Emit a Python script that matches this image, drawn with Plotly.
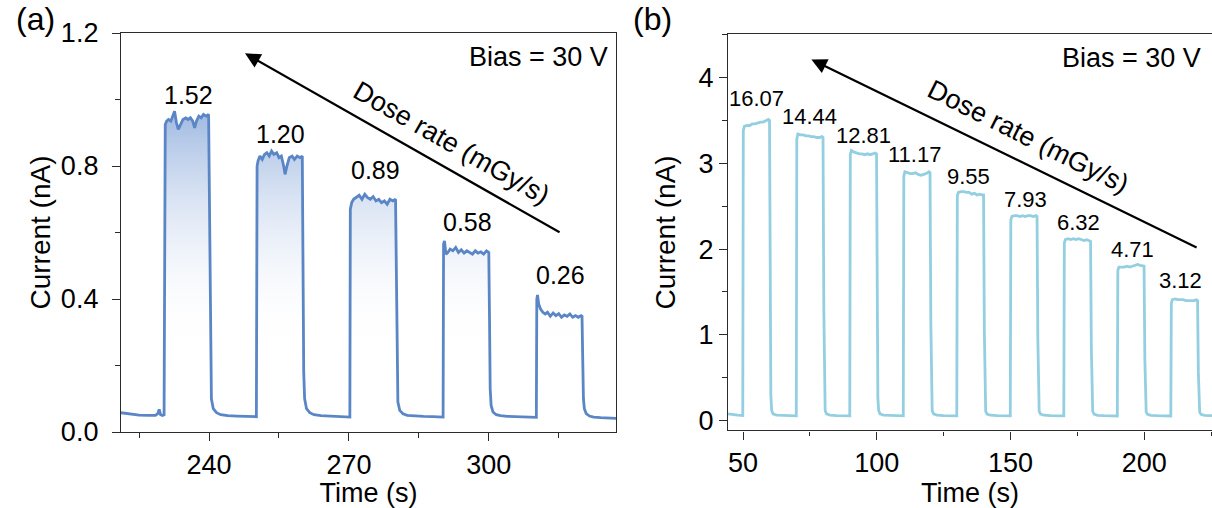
import plotly.graph_objects as go

# ---------------- Panel (a): current vs time, 5 dose rates ----------------
t_a = [221.1, 223.0, 225.0, 227.0, 228.5, 229.0, 229.3, 229.6, 230.0, 230.35,
       230.45, 230.6, 230.9, 231.3, 231.8, 232.3, 232.6, 233.0, 233.4, 233.9, 234.4, 235.0,
       235.5, 236.0, 236.5, 236.9, 237.3, 237.8, 238.3, 238.8, 239.4, 239.9,
       240.15, 240.3, 240.5, 240.9, 241.6, 242.5, 244.0, 246.0, 248.0, 250.0, 250.15,
       250.3, 250.5, 250.9, 251.4, 251.9, 252.4, 252.9, 253.4, 253.9, 254.5, 255.0, 255.5,
       256.0, 256.3, 256.7, 257.2, 257.8, 258.3, 258.9, 259.5, 260.0,
       260.15, 260.3, 260.5, 260.9, 261.6, 262.5, 264.0, 266.0, 268.0, 270.0, 270.2,
       270.3, 270.6, 271.0, 271.6, 272.2, 272.8, 273.4, 274.0, 274.6, 275.2, 275.8, 276.4,
       277.0, 277.6, 278.2, 278.8, 279.4, 280.0,
       280.15, 280.3, 280.5, 280.9, 281.6, 282.5, 284.0, 286.0, 288.0, 290.0, 290.2,
       290.3, 290.5, 290.8, 291.2, 291.7, 292.3, 292.9, 293.5, 294.1, 294.7, 295.3, 295.9,
       296.5, 297.1, 297.7, 298.3, 298.9, 299.5, 300.0,
       300.15, 300.3, 300.5, 300.9, 301.6, 302.5, 304.0, 306.0, 308.0, 310.0, 310.2,
       310.3, 310.45, 310.7, 311.1, 311.6, 312.1, 312.6, 313.2, 313.8, 314.4, 315.0, 315.6,
       316.2, 316.8, 317.4, 318.0, 318.6, 319.2, 319.8, 320.0,
       320.15, 320.3, 320.5, 320.9, 321.6, 322.5, 324.0, 326.0, 327.3]
i_a = [0.058, 0.054, 0.051, 0.050, 0.050, 0.055, 0.068, 0.052, 0.050, 0.052,
       0.900, 0.925, 0.935, 0.940, 0.935, 0.955, 0.965, 0.930, 0.910, 0.925, 0.940, 0.945,
       0.940, 0.945, 0.935, 0.915, 0.935, 0.950, 0.945, 0.955, 0.950, 0.955,
       0.550, 0.200, 0.100, 0.070, 0.058, 0.052, 0.049, 0.048, 0.046, 0.045, 0.046,
       0.800, 0.815, 0.830, 0.820, 0.835, 0.840, 0.830, 0.845, 0.835, 0.840, 0.825, 0.830,
       0.800, 0.775, 0.800, 0.825, 0.830, 0.820, 0.830, 0.825, 0.830,
       0.500, 0.180, 0.100, 0.070, 0.058, 0.052, 0.049, 0.047, 0.046, 0.045, 0.045,
       0.670, 0.690, 0.700, 0.705, 0.712, 0.700, 0.715, 0.705, 0.700, 0.708, 0.695, 0.700,
       0.690, 0.695, 0.685, 0.700, 0.695, 0.700,
       0.450, 0.160, 0.090, 0.065, 0.055, 0.050, 0.048, 0.047, 0.046, 0.045, 0.045,
       0.565, 0.575, 0.535, 0.540, 0.550, 0.545, 0.555, 0.540, 0.548, 0.538, 0.545, 0.540,
       0.535, 0.545, 0.538, 0.542, 0.535, 0.545, 0.540,
       0.350, 0.130, 0.080, 0.060, 0.052, 0.049, 0.047, 0.046, 0.045, 0.044, 0.044,
       0.400, 0.412, 0.385, 0.370, 0.360, 0.355, 0.360, 0.348, 0.358, 0.350, 0.356, 0.345,
       0.352, 0.348, 0.355, 0.345, 0.350, 0.345, 0.350, 0.348,
       0.220, 0.100, 0.070, 0.055, 0.048, 0.045, 0.043, 0.042, 0.041]
dose_a = ["1.52", "1.20", "0.89", "0.58", "0.26"]
label_a_x = [235.6, 255.3, 275.6, 295.5, 315.3]
label_a_y = [1.013, 0.897, 0.789, 0.633, 0.471]

# ---------------- Panel (b): current vs time, 9 dose rates ----------------
t_b = [44.4, 46.0, 48.0, 49.9,
       50.1, 50.5, 51.5, 52.5, 53.5, 54.5, 55.5, 56.5, 57.5, 58.5, 59.5, 59.9,
       60.2, 60.4, 60.7, 61.2, 62.5, 65.0, 67.5, 69.9,
       70.1, 70.5, 71.5, 72.5, 73.5, 74.5, 75.5, 76.5, 77.5, 78.5, 79.5, 79.9,
       80.2, 80.4, 80.7, 81.2, 82.5, 85.0, 87.5, 89.9,
       90.1, 90.5, 91.5, 92.5, 93.5, 94.5, 95.5, 96.5, 97.5, 98.5, 99.5, 99.9,
       100.2, 100.4, 100.7, 101.2, 102.5, 105.0, 107.5, 109.9,
       110.1, 110.5, 111.5, 112.5, 113.5, 114.5, 115.5, 116.5, 117.5, 118.5, 119.5, 119.9,
       120.2, 120.4, 120.7, 121.2, 122.5, 125.0, 127.5, 129.9,
       130.1, 130.5, 131.5, 132.5, 133.5, 134.5, 135.5, 136.5, 137.5, 138.5, 139.5, 139.9,
       140.2, 140.4, 140.7, 141.2, 142.5, 145.0, 147.5, 149.9,
       150.1, 150.5, 151.5, 152.5, 153.5, 154.5, 155.5, 156.5, 157.5, 158.5, 159.5, 159.9,
       160.2, 160.4, 160.7, 161.2, 162.5, 165.0, 167.5, 169.9,
       170.1, 170.5, 171.5, 172.5, 173.5, 174.5, 175.5, 176.5, 177.5, 178.5, 179.5, 179.9,
       180.2, 180.4, 180.7, 181.2, 182.5, 185.0, 187.5, 189.9,
       190.1, 190.5, 191.5, 192.5, 193.5, 194.5, 195.5, 196.5, 197.5, 198.5, 199.5, 199.9,
       200.2, 200.4, 200.7, 201.2, 202.5, 205.0, 207.5, 209.9,
       210.1, 210.5, 211.5, 212.5, 213.5, 214.5, 215.5, 216.5, 217.5, 218.5, 219.5, 219.9,
       220.2, 220.4, 220.7, 221.2, 222.5, 225.3]
i_b = [0.080, 0.070, 0.065, 0.060,
       3.38, 3.43, 3.44, 3.44, 3.46, 3.46, 3.47, 3.48, 3.48, 3.50, 3.51, 3.50,
       1.40, 0.30, 0.12, 0.080, 0.065, 0.060, 0.058, 0.056,
       3.28, 3.34, 3.33, 3.33, 3.32, 3.32, 3.31, 3.31, 3.30, 3.30, 3.31, 3.30,
       1.30, 0.28, 0.12, 0.080, 0.065, 0.060, 0.058, 0.056,
       3.10, 3.15, 3.13, 3.12, 3.11, 3.11, 3.10, 3.11, 3.10, 3.11, 3.12, 3.11,
       1.25, 0.27, 0.12, 0.080, 0.065, 0.060, 0.058, 0.056,
       2.85, 2.90, 2.89, 2.88, 2.88, 2.89, 2.87, 2.86, 2.87, 2.88, 2.90, 2.89,
       1.15, 0.26, 0.12, 0.080, 0.065, 0.060, 0.058, 0.056,
       2.62, 2.66, 2.67, 2.67, 2.66, 2.66, 2.64, 2.65, 2.63, 2.64, 2.63, 2.63,
       1.05, 0.25, 0.11, 0.078, 0.064, 0.060, 0.058, 0.056,
       2.34, 2.38, 2.39, 2.39, 2.38, 2.39, 2.38, 2.39, 2.39, 2.38, 2.39, 2.38,
       0.95, 0.23, 0.11, 0.078, 0.064, 0.060, 0.058, 0.056,
       2.07, 2.11, 2.12, 2.11, 2.12, 2.11, 2.12, 2.11, 2.10, 2.11, 2.10, 2.09,
       0.85, 0.21, 0.11, 0.076, 0.063, 0.059, 0.057, 0.055,
       1.75, 1.79, 1.79, 1.79, 1.80, 1.79, 1.80, 1.81, 1.82, 1.81, 1.80, 1.80,
       0.72, 0.19, 0.10, 0.075, 0.062, 0.058, 0.056, 0.055,
       1.37, 1.41, 1.42, 1.41, 1.41, 1.41, 1.40, 1.40, 1.40, 1.40, 1.41, 1.40,
       0.56, 0.17, 0.10, 0.074, 0.062, 0.058]
dose_b = ["16.07", "14.44", "12.81", "11.17", "9.55", "7.93", "6.32", "4.71", "3.12"]
label_b_x = [55.2, 74.7, 94.9, 114.0, 134.3, 155.7, 175.4, 195.4, 213.7]
label_b_y = [3.76, 3.54, 3.32, 3.10, 2.84, 2.58, 2.31, 1.99, 1.63]

FONT = "Liberation Sans, Arial, sans-serif"
AXC = "#2b2b2b"
COL_A = "#5a86c5"
COL_B = "#93cfe0"

fig = go.Figure()
fig.add_trace(go.Scatter(
    x=t_a, y=i_a, mode="lines", line=dict(width=0), fill="tozeroy",
    fillgradient=dict(type="vertical", start=0.25, stop=1.0,
                      colorscale=[[0, "rgba(255,255,255,0)"], [1, "rgba(150,178,222,1)"]]),
    xaxis="x", yaxis="y", hoverinfo="skip", showlegend=False))
fig.add_trace(go.Scatter(x=t_a, y=i_a, mode="lines", line=dict(color=COL_A, width=2.8),
                         xaxis="x", yaxis="y", showlegend=False))
fig.add_trace(go.Scatter(x=t_b, y=i_b, mode="lines", line=dict(color=COL_B, width=2.8),
                         xaxis="x2", yaxis="y2", showlegend=False))

def ax_common(**kw):
    d = dict(showline=True, linecolor=AXC, linewidth=1.3, ticks="outside", ticklen=8,
             tickwidth=1.3, tickcolor=AXC, showgrid=False, zeroline=False, automargin=False,
             tickfont=dict(family=FONT, size=27, color="black"))
    d.update(kw)
    return d

minor = lambda dt: dict(ticks="outside", ticklen=4.5, tickwidth=1.3, tickcolor=AXC, dtick=dt, showgrid=False)

fig.update_layout(
    width=1212, height=508, margin=dict(l=0, r=0, t=0, b=0, pad=0),
    paper_bgcolor="white", plot_bgcolor="white",
    font=dict(family=FONT, color="black"),
    xaxis=ax_common(domain=[0.0998, 0.5083], range=[221.1, 327.3], dtick=30, tick0=0,
                    minor=minor(15), mirror=True, anchor="y",
                    title=dict(text="Time (s)", font=dict(size=27), standoff=0)),
    yaxis=ax_common(domain=[0.1496, 0.935], range=[0, 1.2], dtick=0.4, tickformat=".1f",
                    minor=minor(0.2), mirror=True, anchor="x", ticklabelstandoff=8,
                    title=dict(text="Current (nA)", font=dict(size=28), standoff=2)),
    xaxis2=ax_common(domain=[0.6007, 1.0], range=[44.4, 225.3], dtick=50, tick0=0,
                     minor=minor(25), mirror=True, anchor="y2",
                     title=dict(text="Time (s)", font=dict(size=27), standoff=0)),
    yaxis2=ax_common(domain=[0.1526, 0.9325], range=[-0.114, 4.503], dtick=1,
                     minor=minor(0.5), mirror=False, anchor="x2",
                     title=dict(text="Current (nA)", font=dict(size=28), standoff=14)),
)

ann = []
for txt, x, y in zip(dose_a, label_a_x, label_a_y):
    ann.append(dict(text=txt, x=x, y=y, xref="x", yref="y", showarrow=False,
                    font=dict(size=25, family=FONT, color="black")))
for txt, x, y in zip(dose_b, label_b_x, label_b_y):
    ann.append(dict(text=txt, x=x, y=y, xref="x2", yref="y2", showarrow=False,
                    font=dict(size=22, family=FONT, color="black")))
# arrows
ann.append(dict(text="", x=247.7, y=1.139, ax=315.5, ay=0.598, xref="x", yref="y",
                axref="x", ayref="y", showarrow=True, arrowhead=2, arrowsize=1.4,
                arrowwidth=2.2, arrowcolor="black"))
ann.append(dict(text="", x=75.55, y=4.21, ax=220.1, ay=2.01, xref="x2", yref="y2",
                axref="x2", ayref="y2", showarrow=True, arrowhead=2, arrowsize=1.4,
                arrowwidth=2.2, arrowcolor="black"))
ann.append(dict(text="Dose rate (mGy/s)", x=292.0, y=0.868, xref="x", yref="y",
                showarrow=False, textangle=29.6, font=dict(size=27, family=FONT, color="black")))
ann.append(dict(text="Dose rate (mGy/s)", x=156.8, y=3.31, xref="x2", yref="y2",
                showarrow=False, textangle=26.5, font=dict(size=27, family=FONT, color="black")))
ann.append(dict(text="Bias = 30 V", x=610 / 1212, y=1 - 56.7 / 508, xref="paper", yref="paper",
                xanchor="right", yanchor="middle", showarrow=False,
                font=dict(size=27, family=FONT, color="black")))
ann.append(dict(text="Bias = 30 V", x=1060 / 1212, y=1 - 57.5 / 508, xref="paper", yref="paper",
                xanchor="left", yanchor="middle", showarrow=False,
                font=dict(size=27, family=FONT, color="black")))
ann.append(dict(text="(a)", x=35 / 1212, y=1.0, xref="paper", yref="paper",
                xanchor="center", yanchor="top", borderpad=0,
                showarrow=False, font=dict(size=32, family=FONT, color="black")))
ann.append(dict(text="(b)", x=652 / 1212, y=1.0, xref="paper", yref="paper",
                xanchor="center", yanchor="top", borderpad=0,
                showarrow=False, font=dict(size=32, family=FONT, color="black")))
fig.update_layout(annotations=ann)

fig.write_html("out.html", config={"displayModeBar": False},
               post_script="document.body.style.margin='0';document.body.style.overflow='hidden';")
